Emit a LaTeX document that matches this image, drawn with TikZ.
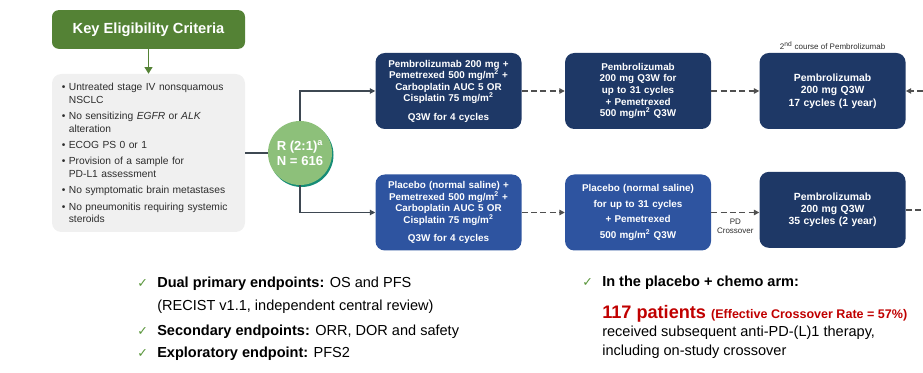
\documentclass[tikz,border=0pt]{standalone}
\usepackage{fontspec}
\setmainfont{Liberation Sans}
\newfontfamily\symfont{DejaVu Sans}
\usepackage{xcolor}
\definecolor{keygreen}{RGB}{84, 130, 53}
\definecolor{randgreen}{RGB}{141, 192, 122}
\definecolor{randshadow}{RGB}{22, 140, 118}
\definecolor{checkgreen}{RGB}{90, 150, 60}
\definecolor{navy}{RGB}{30, 56, 102}
\definecolor{armblue}{RGB}{46, 84, 160}
\definecolor{critgray}{RGB}{240, 240, 240}
\definecolor{textgray}{RGB}{45, 45, 45}
\definecolor{linegray}{RGB}{62, 72, 82}
\definecolor{dashgray}{RGB}{80, 80, 80}
\definecolor{alertred}{RGB}{192, 0, 0}
\usetikzlibrary{arrows.meta, positioning, calc}
\newcommand{\critindent}{\phantom{\textbullet\ }}
\newcommand{\chkbox}{\makebox[15pt][l]{{\symfont\color{checkgreen}\fontsize{9.5}{9.5}\selectfont\symbol{"2713}}}}

\begin{document}
\begin{tikzpicture}[x=0.75pt, y=-0.75pt,
        headbox/.style={rectangle, fill=keygreen, rounded corners=5pt, minimum width=144.75pt, minimum height=29pt, text=white, font=\fontsize{11}{13}\selectfont\bfseries},
        critbox/.style={rectangle, fill=critgray, rounded corners=7pt, minimum width=144.75pt, minimum height=118.5pt, text width=130pt, inner sep=0pt, align=left, text=textgray, font=\fontsize{7.7}{9.3}\selectfont},
        randnode/.style={circle, fill=randgreen, minimum size=48pt, inner sep=0pt, text=white, align=center, font=\fontsize{9.8}{11.5}\selectfont\bfseries},
        armbox/.style={rectangle, fill=navy, rounded corners=7pt, minimum width=109.5pt, minimum height=57pt, text width=106pt, inner sep=0pt, align=center, text=white, font=\fontsize{7.4}{8.7}\selectfont\bfseries},
        plbox/.style={armbox, fill=armblue},
        link/.style={draw=linegray, thick},
        line/.style={draw=linegray, thick, -{Triangle[length=4pt, width=4pt]}},
        greenline/.style={draw=keygreen, thick, -{Triangle[length=5pt, width=6pt]}},
        dashline/.style={draw=dashgray, line width=1.1pt, dash pattern=on 4.5pt off 2.5pt, -{Triangle[length=4pt, width=4pt]}},
        note/.style={font=\fontsize{6}{7}\selectfont, text=textgray, inner sep=1pt, align=center},
        endpt/.style={anchor=base west, inner sep=0pt, font=\fontsize{10.9}{12}\selectfont, text=black}]

    \useasboundingbox (0,0) rectangle (923,373);

    % eligibility
    \node [headbox] (key) at (148.5,29.5) {Key Eligibility Criteria};
    \node [critbox] (crit) at (148.5,153) {\textbullet\ Untreated stage IV nonsquamous\\
        \critindent NSCLC\\[3pt]
        \textbullet\ No sensitizing \textit{EGFR} or \textit{ALK}\\
        \critindent alteration\\[3pt]
        \textbullet\ ECOG PS 0 or 1\\[3pt]
        \textbullet\ Provision of a sample for\\
        \critindent PD-L1 assessment\\[3pt]
        \textbullet\ No symptomatic brain metastases\\[3pt]
        \textbullet\ No pneumonitis requiring systemic\\
        \critindent steroids};

    % randomisation
    \fill [randshadow] (301.5,155) circle (24pt);
    \node [randnode] (rand) at (300,153) {R (2:1)\textsuperscript{a}\\N = 616};

    % pembrolizumab arm
    \node [armbox] (a1) at (448.5,91) {Pembrolizumab 200 mg +\\
        Pemetrexed 500 mg/m\textsuperscript{2} +\\
        Carboplatin AUC 5 OR\\
        Cisplatin 75 mg/m\textsuperscript{2}\\[5pt]
        Q3W for 4 cycles};
    \node [armbox, right=32.25pt of a1] (a2) {Pembrolizumab\\
        200 mg Q3W for\\
        up to 31 cycles\\
        + Pemetrexed\\
        500 mg/m\textsuperscript{2} Q3W};
    \node [armbox, right=36pt of a2, font=\fontsize{7.8}{9.3}\selectfont\bfseries] (a3) {Pembrolizumab\\
        200 mg Q3W\\
        17 cycles (1 year)};
    \node [note, above=1pt of a3] (course2) {2\textsuperscript{nd} course of Pembrolizumab};

    % placebo arm
    \node [plbox] (b1) at (448.5,212.5) {Placebo (normal saline) +\\
        Pemetrexed 500 mg/m\textsuperscript{2} +\\
        Carboplatin AUC 5 OR\\
        Cisplatin 75 mg/m\textsuperscript{2}\\[5pt]
        Q3W for 4 cycles};
    \node [plbox, right=32.25pt of b1] (b2) {Placebo (normal saline)\\[3pt]
        for up to 31 cycles\\[3pt]
        + Pemetrexed\\[3pt]
        500 mg/m\textsuperscript{2} Q3W};
    \node [armbox, right=36pt of b2, yshift=2pt, font=\fontsize{7.8}{9.3}\selectfont\bfseries] (b3) {Pembrolizumab\\
        200 mg Q3W\\
        35 cycles (2 year)};

    \coordinate [right=13pt of a3] (loopin);
    \coordinate [right=13pt of b3] (loopout);

    % connectors
    \draw [greenline] (key) -- (crit);
    \draw [link] (crit.east) -- (rand.west);
    \draw [line] (rand.north) |- (a1.west);
    \draw [line] (rand.south) |- (b1.west);
    \draw [dashline] (a1) -- (a2);
    \draw [dashline] (a2) -- (a3);
    \draw [dashline] (b1) -- (b2);
    \draw [dashline] (b2.east) -- node [note, below=3pt] (pdx) {PD\\Crossover} (b2.east -| b3.west);
    \draw [dashline] (loopin) -- (a3.east);
    \draw [dashline, -] (b3.east) -- (loopout);

    % endpoints
    \node [endpt] (ep1) at (137,288) {\chkbox\textbf{Dual primary endpoints:} OS and PFS};
    \node [endpt] (ep1b) at (157,311) {(RECIST v1.1, independent central review)};
    \node [endpt] (ep2) at (137,335) {\chkbox\textbf{Secondary endpoints:} ORR, DOR and safety};
    \node [endpt] (ep3) at (137,358) {\chkbox\textbf{Exploratory endpoint:} PFS2};

    \node [endpt] (arm) at (582,287) {\chkbox\textbf{In the placebo + chemo arm:}};
    \node [endpt, text=alertred] (pts) at (602,319) {\fontsize{13.6}{15}\selectfont\bfseries 117 patients \fontsize{9.4}{11}\selectfont(Effective Crossover Rate = 57\%)};
    \node [endpt] (recv) at (602,337) {received subsequent anti-PD-(L)1 therapy,};
    \node [endpt] (incl) at (602,356) {including on-study crossover};
\end{tikzpicture}
\end{document}
